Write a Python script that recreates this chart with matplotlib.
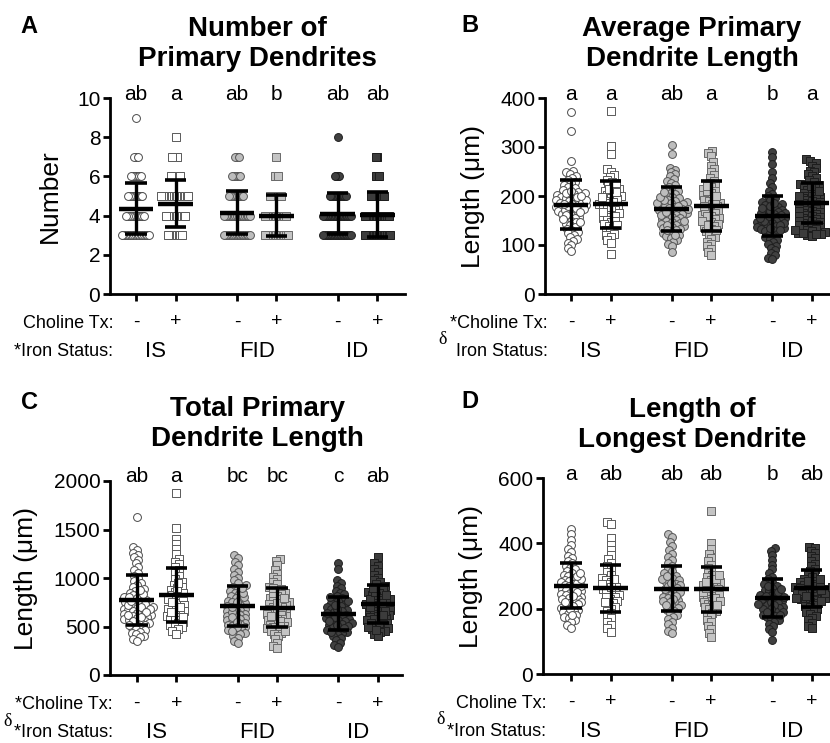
import numpy as np
import matplotlib
matplotlib.use('Agg')
import matplotlib.pyplot as plt
from matplotlib.transforms import blended_transform_factory

plt.rcParams['font.family'] = ['Liberation Sans', 'DejaVu Sans']

# ---------------- data ----------------
groups = ['IS-', 'IS+', 'FID-', 'FID+', 'ID-', 'ID+']
choline_marks = ['-', '+', '-', '+', '-', '+']
iron_labels = ['IS', 'FID', 'ID']
positions = [0, 1, 2.55, 3.55, 5.1, 6.1]

# Panel A: number of primary dendrites (counts of cells at each integer value)
a_levels = [3, 4, 5, 6, 7, 8, 9]
a_counts_is_m = [18, 12, 10, 7, 3, 0, 1]
a_counts_is_p = [10, 13, 18, 7, 4, 1, 0]
a_counts_fid_m = [17, 17, 10, 6, 3, 0, 0]
a_counts_fid_p = [15, 14, 8, 3, 1, 0, 0]
a_counts_id_m = [18, 18, 11, 4, 0, 1, 0]
a_counts_id_p = [17, 16, 9, 3, 2, 0, 0]
a_means = [4.35, 4.6, 4.15, 4.0, 4.1, 4.05]
a_sds = [1.3, 1.2, 1.1, 1.05, 1.05, 1.15]
a_letters = ['ab', 'a', 'ab', 'b', 'ab', 'ab']

# Panel B: average primary dendrite length (um)
b_is_m = [372, 333, 271, 251, 248, 244, 241, 236, 233, 229, 226, 222, 218, 216, 212, 209, 207, 204,
          203, 200, 198, 196, 193, 191, 189, 187, 185, 183, 181, 180, 178, 176, 173, 171, 169, 166,
          164, 161, 158, 156, 152, 149, 146, 143, 140, 137, 133, 130, 127, 124, 120, 116, 112, 108,
          104, 99, 94, 88,
          171, 175, 179, 184, 188, 192, 197, 201, 206, 211, 162, 167, 154, 146]
b_is_p = [373, 302, 285, 256, 249, 243, 238, 233, 229, 224, 219, 215, 211, 207, 203, 199, 196, 193,
          190, 186, 183, 180, 177, 174, 171, 168, 165, 162, 158, 155, 151, 147, 143, 139, 135, 131,
          127, 123, 120, 116, 111, 104, 82,
          178, 188, 198, 208, 168, 160, 150, 215, 226, 140]
b_fid_m = [305, 286, 258, 254, 249, 244, 240, 235, 231, 227, 223, 219, 215, 211, 207, 204, 201, 198,
           195, 192, 190, 187, 185, 183, 181, 179, 177, 175, 173, 171, 169, 167, 165, 163, 161, 159,
           157, 155, 153, 151, 149, 147, 145, 143, 141, 139, 137, 135, 133, 130, 127, 124, 121, 118,
           115, 111, 107, 103, 98, 86,
           162, 168, 174, 180, 186, 192, 150, 140, 130, 198, 208, 120]
b_fid_p = [292, 288, 281, 270, 262, 255, 248, 242, 237, 231, 227, 222, 218, 214, 210, 206, 202, 199,
           196, 192, 189, 186, 183, 180, 177, 174, 171, 168, 165, 162, 159, 156, 153, 150, 147, 143,
           139, 136, 132, 128, 124, 120, 116, 112, 107, 102, 97, 92, 86, 80,
           170, 180, 190, 200, 160, 150, 140, 210, 220, 130]
b_id_m = [290, 280, 266, 250, 236, 226, 218, 211, 205, 199, 195, 191, 187, 184, 181, 178, 175, 172,
          170, 168, 166, 164, 162, 160, 158, 156, 154, 152, 150, 148, 146, 144, 142, 140, 138, 136,
          134, 132, 130, 128, 125, 122, 119, 116, 113, 110, 106, 102, 98, 94, 89, 84, 79, 74, 71,
          150, 155, 160, 165, 170, 145, 140, 135, 175, 180, 130, 185]
b_id_p = [275, 271, 267, 262, 257, 252, 248, 244, 240, 236, 232, 228, 225, 222, 219, 216, 213, 210,
          207, 204, 201, 199, 197, 195, 193, 191, 189, 187, 185, 183, 181, 179, 177, 175, 173, 171,
          169, 167, 165, 163, 161, 159, 157, 155, 153, 151, 149, 147, 145, 143, 141, 139, 137, 135,
          133, 131, 129, 127, 125, 123, 121, 119,
          180, 190, 200, 170, 160, 150, 210, 220, 140, 130, 124, 122]
b_means = [182, 183, 174, 179, 159, 186]
b_sds = [50, 48, 45, 51, 41, 41]
b_letters = ['a', 'a', 'ab', 'a', 'b', 'a']

# Panel C: total primary dendrite length (um)
c_is_m = [1630, 1320, 1290, 1260, 1240, 1215, 1190, 1150, 1110, 1080, 1050, 1020, 995, 970, 950, 930,
          910, 890, 870, 850, 835, 820, 805, 790, 778, 765, 752, 740, 728, 716, 705, 694, 683, 672,
          661, 650, 640, 630, 620, 610, 600, 590, 580, 570, 560, 548, 536, 524, 512, 500, 488, 475,
          462, 448, 434, 420, 405, 390, 372, 355,
          700, 720, 760, 800, 680, 650, 620, 840, 880, 600, 560, 520]
c_is_p = [1880, 1520, 1400, 1350, 1300, 1250, 1200, 1170, 1140, 1110, 1080, 1050, 1020, 990, 960, 930,
          905, 880, 860, 840, 820, 800, 780, 760, 740, 720, 700, 685, 670, 655, 640, 625, 610, 595,
          580, 565, 550, 535, 520, 505, 490, 470, 450, 425,
          800, 850, 750, 700, 900, 650, 600, 950]
c_fid_m = [1235, 1210, 1170, 1130, 1090, 1060, 1030, 1000, 975, 950, 930, 910, 890, 870, 850, 832,
           815, 798, 782, 767, 752, 738, 724, 710, 697, 684, 671, 658, 646, 634, 622, 610, 598, 586,
           574, 562, 550, 538, 526, 514, 502, 490, 477, 464, 450, 436, 420, 402, 380, 355, 325,
           650, 700, 750, 600, 800, 550, 850, 500, 900, 450]
c_fid_p = [1200, 1175, 1130, 1080, 1040, 1010, 985, 960, 935, 912, 890, 870, 850, 832, 815, 798, 782,
           766, 750, 735, 720, 706, 692, 678, 664, 650, 637, 624, 611, 598, 585, 572, 559, 546, 533,
           520, 507, 494, 480, 466, 452, 437, 420, 400, 370, 330, 300, 280,
           655, 705, 745, 605, 795, 555, 845, 505, 895, 455]
c_id_m = [1150, 1090, 980, 950, 920, 895, 870, 850, 830, 810, 792, 775, 758, 742, 727, 712, 698, 684,
          671, 658, 646, 634, 622, 611, 600, 589, 578, 567, 556, 545, 534, 523, 512, 501, 490, 478,
          466, 454, 441, 428, 414, 398, 380, 360, 335, 305, 290,
          600, 640, 680, 560, 720, 520, 760, 480, 800, 440]
c_id_p = [1220, 1150, 1120, 1090, 1060, 1030, 1005, 980, 955, 935, 915, 895, 877, 860, 843, 827, 812,
          797, 783, 769, 756, 743, 730, 718, 706, 694, 682, 670, 658, 646, 634, 622, 610, 598, 586,
          574, 562, 550, 538, 525, 512, 498, 484, 470, 455, 440, 420, 400,
          700, 740, 780, 660, 820, 620, 860, 580, 900, 540, 500, 460]
c_means = [775, 828, 708, 695, 633, 733]
c_sds = [260, 280, 206, 205, 172, 195]
c_letters = ['ab', 'a', 'bc', 'bc', 'c', 'ab']

# Panel D: length of longest dendrite (um)
d_is_m = [445, 428, 410, 395, 382, 372, 362, 354, 346, 339, 332, 326, 320, 314, 309, 304, 299, 294,
          289, 285, 281, 277, 273, 269, 265, 261, 257, 253, 249, 245, 241, 237, 233, 229, 225, 221,
          217, 213, 209, 205, 201, 197, 193, 189, 185, 180, 175, 170, 164, 158, 150, 142,
          260, 270, 280, 250, 290, 240, 300, 230, 310, 220, 200, 180]
d_is_p = [465, 458, 415, 395, 380, 365, 352, 340, 330, 320, 311, 303, 295, 288, 281, 274, 267, 260,
          254, 248, 242, 236, 230, 224, 218, 212, 206, 200, 193, 186, 178, 170, 160, 150, 140, 130,
          250, 265, 275, 235, 290, 220]
d_fid_m = [430, 420, 405, 392, 380, 368, 358, 348, 339, 331, 323, 315, 308, 301, 295, 289, 283, 277,
           272, 267, 262, 257, 252, 247, 242, 237, 232, 227, 222, 217, 212, 207, 202, 197, 192, 186,
           180, 174, 168, 160, 152, 142, 132, 125,
           250, 260, 270, 240, 280, 230, 290, 220, 300, 210]
d_fid_p = [500, 400, 382, 368, 356, 345, 335, 326, 318, 310, 303, 296, 289, 283, 277, 271, 265, 260,
           255, 250, 245, 240, 235, 230, 225, 220, 215, 210, 205, 200, 194, 188, 181, 174, 166, 158,
           148, 138, 125, 112,
           252, 262, 272, 242, 282, 232, 292, 222, 302, 212]
d_id_m = [385, 378, 365, 350, 335, 320, 308, 298, 290, 283, 276, 270, 264, 258, 253, 248, 243, 238,
          234, 230, 226, 222, 218, 214, 210, 206, 202, 198, 194, 190, 186, 182, 178, 174, 170, 165,
          160, 154, 147, 138, 128, 105,
          220, 230, 240, 210, 250, 200, 260, 190, 270, 180, 215, 235]
d_id_p = [390, 385, 378, 370, 362, 354, 346, 338, 330, 322, 315, 308, 302, 296, 291, 286, 281, 277,
          273, 269, 265, 262, 259, 256, 253, 250, 247, 244, 241, 238, 235, 232, 229, 226, 223, 220,
          216, 212, 208, 204, 200, 195, 190, 184, 178, 171, 164, 156, 148, 140,
          255, 262, 270, 248, 278, 240, 285, 232, 292, 225, 258, 266]
d_means = [270, 263, 261, 260, 233, 262]
d_sds = [69, 72, 69, 69, 57, 56]
d_letters = ['a', 'ab', 'ab', 'ab', 'b', 'ab']

# ---------------- styles ----------------
markers = ['o', 's', 'o', 's', 'o', 's']
faces = ['white', 'white', '#bdbdbd', '#c4c4c4', '#404040', '#3c3c3c']
edges = ['#4a4a4a', '#5a5a5a', '#555555', '#6a6a6a', '#1e1e1e', '#1e1e1e']

W, H = 830, 743
fig = plt.figure(figsize=(W / 100, H / 100), dpi=100)


def ax_px(left, top, right, bottom):
    return fig.add_axes([left / W, 1 - bottom / H, (right - left) / W, (bottom - top) / H])


def swarm(ypix, d):
    order = np.argsort(ypix)
    xs = np.zeros(len(ypix))
    px_list, py_list = [], []
    for i in order:
        y = ypix[i]
        ints = []
        for px, py in zip(px_list, py_list):
            dy = abs(py - y)
            if dy < d:
                w = np.sqrt(d * d - dy * dy)
                ints.append((px - w, px + w))
        cands = [0.0] + [a for a, b in ints] + [b for a, b in ints]
        cands.sort(key=abs)
        for c in cands:
            if all(not (a + 1e-6 < c < b - 1e-6) for a, b in ints):
                xs[i] = c
                break
        px_list.append(xs[i])
        py_list.append(y)
    return xs


panels = [
    dict(box=(110, 98, 405, 294), letter='A', lx=20, ly=33, title='Number of\nPrimary Dendrites',
         tx=257, ty=66,
         ylabel='Number', ylim=(0, 10), yticks=[0, 2, 4, 6, 8, 10], xlim=(-0.66, 6.8),
         data=[np.repeat(a_levels, c) for c in [a_counts_is_m, a_counts_is_p, a_counts_fid_m,
                                                a_counts_fid_p, a_counts_id_m, a_counts_id_p]],
         means=a_means, sds=a_sds, letters=a_letters, d=1.6,
         row1='Choline Tx:', row2='*Iron Status:', delta=False),
    dict(box=(545, 98, 830, 294), letter='B', lx=461, ly=32, title='Average Primary\nDendrite Length',
         tx=692, ty=66,
         ylabel='Length (\u03bcm)', ylim=(0, 400), yticks=[0, 100, 200, 300, 400], xlim=(-0.66, 6.56),
         data=[b_is_m, b_is_p, b_fid_m, b_fid_p, b_id_m, b_id_p],
         means=b_means, sds=b_sds, letters=b_letters, d=4.6,
         row1='*Choline Tx:', row2='Iron Status:', delta=True),
    dict(box=(110, 481, 402, 675), letter='C', lx=21, ly=409, title='Total Primary\nDendrite Length',
         tx=257, ty=446,
         ylabel='Length (\u03bcm)', ylim=(0, 2000), yticks=[0, 500, 1000, 1500, 2000], xlim=(-0.68, 6.71),
         data=[c_is_m, c_is_p, c_fid_m, c_fid_p, c_id_m, c_id_p],
         means=c_means, sds=c_sds, letters=c_letters, d=4.6,
         row1='*Choline Tx:', row2='*Iron Status:', delta=True),
    dict(box=(543, 478, 830, 674), letter='D', lx=461, ly=408, title='Length of\nLongest Dendrite',
         tx=692, ty=447,
         ylabel='Length (\u03bcm)', ylim=(0, 600), yticks=[0, 200, 400, 600], xlim=(-0.71, 6.56),
         data=[d_is_m, d_is_p, d_fid_m, d_fid_p, d_id_m, d_id_p],
         means=d_means, sds=d_sds, letters=d_letters, d=4.6,
         row1='Choline Tx:', row2='*Iron Status:', delta=True),
]

for p in panels:
    l, t, r, b = p['box']
    ax = ax_px(l, t, r, b)
    ax.set_xlim(*p['xlim'])
    ax.set_ylim(*p['ylim'])
    for s in ['top', 'right']:
        ax.spines[s].set_visible(False)
    for s in ['left', 'bottom']:
        ax.spines[s].set_linewidth(2.0)
    ax.set_yticks(p['yticks'])
    ax.set_yticklabels([str(v) for v in p['yticks']], fontsize=15)
    ax.set_xticks(positions)
    ax.set_xticklabels([])
    ax.tick_params(axis='y', length=5, width=2, pad=2)
    ax.tick_params(axis='x', length=5, width=2)
    ax.set_ylabel(p['ylabel'], fontsize=19, labelpad=11)

    # scatter points (swarm layout in pixel space)
    x0 = ax.transData.transform((0, 0))[0]
    x1 = ax.transData.transform((1, 0))[0]
    ppu = x1 - x0
    for gi, vals in enumerate(p['data']):
        vals = np.asarray(vals, dtype=float)
        ypix = ax.transData.transform(np.column_stack([np.zeros_like(vals), vals]))[:, 1]
        offs = swarm(ypix, p['d']) / ppu
        ax.scatter(positions[gi] + offs, vals, s=32, marker=markers[gi], facecolor=faces[gi],
                   edgecolor=edges[gi], linewidth=0.7, zorder=2, clip_on=False)

    # mean +/- SD
    for gi in range(6):
        xc = positions[gi]
        m, sd = p['means'][gi], p['sds'][gi]
        ax.plot([xc, xc], [m - sd, m + sd], color='black', lw=2.4, zorder=4, solid_capstyle='butt')
        ax.plot([xc - 0.44, xc + 0.44], [m, m], color='black', lw=3.2, zorder=4, solid_capstyle='butt')
        for yy in (m - sd, m + sd):
            ax.plot([xc - 0.27, xc + 0.27], [yy, yy], color='black', lw=2.6, zorder=4,
                    solid_capstyle='butt')

    trans = blended_transform_factory(ax.transData, ax.transAxes)
    for gi in range(6):
        ax.annotate(p['letters'][gi], xy=(positions[gi], 1.0), xycoords=trans,
                    xytext=(0, -1.5), textcoords='offset pixels', ha='center', va='baseline',
                    fontsize=15, annotation_clip=False)
        ax.annotate(choline_marks[gi], xy=(positions[gi], 0.0), xycoords=trans,
                    xytext=(0, -28), textcoords='offset pixels', ha='center', va='center',
                    fontsize=14, annotation_clip=False)
    for k in range(3):
        xc = (positions[2 * k] + positions[2 * k + 1]) / 2
        ax.annotate(iron_labels[k], xy=(xc, 0.0), xycoords=trans,
                    xytext=(0, -63), textcoords='offset pixels', ha='center', va='baseline',
                    fontsize=16, annotation_clip=False)
    ax.annotate(p['row1'], xy=(0, 0), xycoords='axes fraction', xytext=(3, -34),
                textcoords='offset pixels', ha='right', va='baseline', fontsize=13,
                annotation_clip=False)
    ax.annotate(p['row2'], xy=(0, 0), xycoords='axes fraction', xytext=(3, -62),
                textcoords='offset pixels', ha='right', va='baseline', fontsize=13,
                annotation_clip=False)
    if p['delta']:
        ax.annotate('\u03b4', xy=(0, 0), xycoords='axes fraction', xytext=(-102, -46),
                    textcoords='offset pixels', ha='center', va='center', fontsize=13,
                    family=['Liberation Serif', 'DejaVu Serif'], annotation_clip=False)

    fig.text(p['lx'] / W, 1 - p['ly'] / H, p['letter'], fontsize=17, fontweight='bold',
             ha='left', va='baseline')
    fig.text(p['tx'] / W, 1 - p['ty'] / H, p['title'], fontsize=20, fontweight='bold',
             ha='center', va='baseline', linespacing=1.2)

fig.savefig('out.png', dpi=100)
